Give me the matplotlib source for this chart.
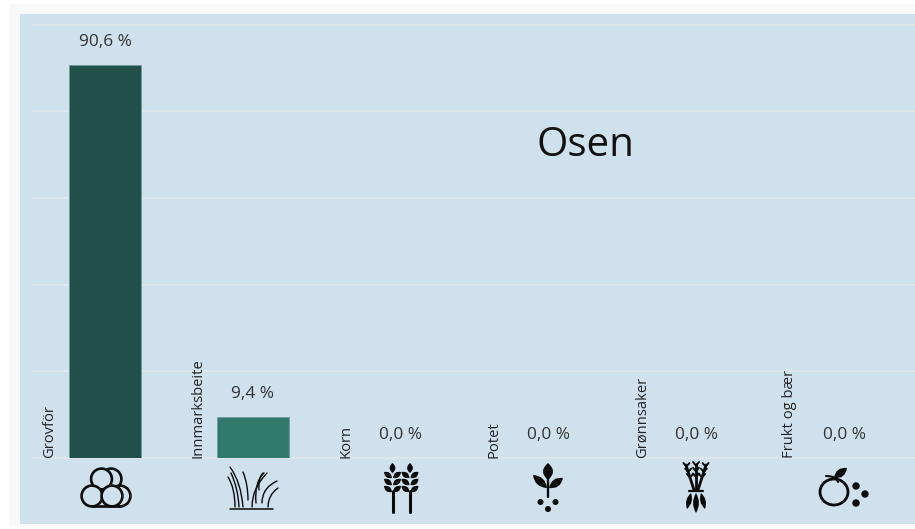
import numpy as np
import matplotlib
matplotlib.use("Agg")
import matplotlib.pyplot as plt
from matplotlib.patches import Circle, Ellipse, Rectangle, PathPatch
from matplotlib.path import Path

categories = ["Grovför", "Innmarksbeite", "Korn", "Potet", "Grønnsaker", "Frukt og bær"]
values = [90.6, 9.4, 0.0, 0.0, 0.0, 0.0]
value_labels = ["90,6 %", "9,4 %", "0,0 %", "0,0 %", "0,0 %", "0,0 %"]
bar_colors = ["#214F4A", "#31796B", "#31796B", "#31796B", "#31796B", "#31796B"]
title = "Osen"
y_ticks = [0, 20, 40, 60, 80, 100]

W, H = 915, 529
plt.rcParams["font.family"] = ["Open Sans", "DejaVu Sans"]
fig = plt.figure(figsize=(W / 100, H / 100), dpi=100, facecolor="white")

bg = fig.add_axes([0, 0, 1, 1], zorder=0)
bg.set_xlim(0, W); bg.set_ylim(H, 0); bg.axis("off")
bg.add_patch(Rectangle((9, 4), W, 522, fc="#F8F8F8", ec="none"))
bg.add_patch(Rectangle((20, 14), W, 510, fc="#CEE1ED", ec="none"))

L, R, T, B = 32, 915, 24.5, 458
ax = fig.add_axes([L / W, 1 - B / H, (R - L) / W, (B - T) / H], zorder=1)
ax.patch.set_alpha(0)
x = np.arange(len(categories))
ax.set_xlim(-0.493, 5.473)
ax.set_ylim(0, 100)
for s in ax.spines.values():
    s.set_visible(False)
ax.set_xticks([]); ax.set_yticks(y_ticks); ax.tick_params(left=False, labelleft=False)
ax.grid(axis="y", color="#DDE6ED", lw=1.5, zorder=0)
for gl in ax.get_ygridlines():
    gl.set_clip_on(False)
ax.set_axisbelow(True)
ax.bar(x, values, width=72 / 148, color=bar_colors, edgecolor="#6F9C98", linewidth=0.6, zorder=2)

for xi, v, lab, cat in zip(x, values, value_labels, categories):
    ax.annotate(lab, (xi, v), xytext=(0, 23), textcoords="offset pixels", ha="center", va="center",
                fontsize=12.4, color="#333333")
    ax.annotate(cat, (xi, 0), xytext=(-55, 0), textcoords="offset pixels", ha="center", va="bottom",
                rotation=90, fontsize=10.6, color="#222222", annotation_clip=False)
ax.text(0.6265, 0.721, title, transform=ax.transAxes, ha="center", va="center", fontsize=29, color="#111111")

ic = fig.add_axes([0, 0, 1, 1], zorder=2)
ic.set_xlim(0, W); ic.set_ylim(H, 0); ic.axis("off"); ic.patch.set_alpha(0)
K = "#0B0B0B"; BG = "#CEE1ED"

def curve(p0, c, p1, lw=1.3):
    ic.add_patch(PathPatch(Path([p0, c, p1], [Path.MOVETO, Path.CURVE3, Path.CURVE3]), fc="none", ec=K, lw=lw, capstyle="round"))

def leaf(x0, y0, x1, y1, w):
    dx, dy = x1 - x0, y1 - y0
    nx, ny = -dy, dx
    n = np.hypot(nx, ny); nx, ny = nx / n * w, ny / n * w
    mx, my = (x0 + x1) / 2, (y0 + y1) / 2
    ic.add_patch(PathPatch(Path([(x0, y0), (mx + nx, my + ny), (x1, y1), (mx - nx, my - ny), (x0, y0)],
                                [Path.MOVETO, Path.CURVE3, Path.CURVE3, Path.CURVE3, Path.CURVE3]), fc=K, ec="none"))

def line(pts, lw=1.6):
    a = np.array(pts)
    ic.plot(a[:, 0], a[:, 1], color=K, lw=lw, solid_capstyle="round")

# bales
for c in [(111, 479), (120, 496), (101.5, 479), (92, 496), (112, 496)]:
    ic.add_patch(Circle(c, 10.4, fc=BG, ec=K, lw=1.9))
line([(92, 506.4), (120, 506.4)], 1.9)

# grass
line([(230, 509), (273, 509)], 1.1)
for p0, c, p1 in [((235, 507), (235, 488), (228, 477)), ((239, 507), (238, 488), (231, 473)),
                  ((243, 507), (241, 482), (230, 467)),
                  ((248, 500), (248, 484), (243, 472)), ((252, 507), (252, 488), (267, 473)),
                  ((256, 503), (254, 482), (264, 473)), ((259, 490), (258, 478), (263, 473)),
                  ((262, 503), (262, 488), (277, 481)),
                  ((268, 507), (268, 495), (278, 488))]:
    curve(p0, c, p1, 1.0)

# wheat
for cx in [392.5, 410]:
    line([(cx, 491), (cx, 512)], 2.2)
    leaf(cx, 463, cx, 473, 6)
    for yy in [473, 480, 487]:
        leaf(cx - 0.5, yy + 5, cx - 8.5, yy - 1, 5.5)
        leaf(cx + 0.5, yy + 5, cx + 8.5, yy - 1, 5.5)

# potato plant
cx = 548
line([(cx, 478), (cx, 497)], 1.7)
leaf(cx, 480, cx, 463, 10)
leaf(cx - 1, 488, cx - 15, 475, 8)
leaf(cx + 1, 488, cx + 15, 478, 8)
for c in [(540.5, 502), (555.5, 502), (548, 509)]:
    ic.add_patch(Circle(c, 3.0, fc=K, ec="none"))

# carrots
cx = 696
for dx, top in [(-10, 465), (0, 464), (10, 465)]:
    line([(cx + dx * 0.2, 490), (cx + dx, top)], 2.0)
    for t in [0.5, 0.72, 0.94]:
        xx = cx + dx * 0.2 + dx * 0.8 * t
        yy = 490 + (top - 490) * t
        line([(xx, yy), (xx - 3, yy - 3.5)], 1.4)
        line([(xx, yy), (xx + 3, yy - 3.5)], 1.4)
line([(689, 491), (703, 491)], 1.6)
leaf(691, 493, 687, 509, 5.5)
leaf(696, 493, 696, 513, 6)
leaf(701, 493, 705, 509, 5.5)

# apple and berries
ic.add_patch(Ellipse((834, 492), 28, 26, fc="none", ec=K, lw=2.0))
curve((838, 482), (836, 476), (826, 476), 1.5)
leaf(834, 478, 847, 468, 8)
for c in [(856, 486), (865, 494), (856, 503)]:
    ic.add_patch(Circle(c, 3.7, fc=K, ec="none"))

fig.savefig("out.png", dpi=100)
